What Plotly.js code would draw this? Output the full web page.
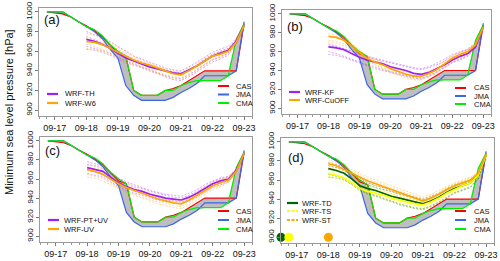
<!DOCTYPE html>
<html><head><meta charset="utf-8">
<script src="https://cdn.plot.ly/plotly-3.0.1.min.js"></script>
<style>html,body{margin:0;padding:0;background:#fff}#chart{width:500px;height:261px}</style>
</head><body><div id="chart"></div>
<script>
// ---------- data ----------
const dayTicks = ['2013-09-17','2013-09-18','2013-09-19','2013-09-20','2013-09-21','2013-09-22','2013-09-23'];
const dayLabels = ['09-17','09-18','09-19','09-20','09-21','09-22','09-23'];
const yTicks = [900, 920, 940, 960, 980, 1000];

// observations, 6-hourly from 2013-09-16 18:00 to 2013-09-23 00:00
const obsStart = '2013-09-16T18:00:00';
const cas = [1000, 999, 998, 995, 990, 986, 981, 975, 966, 958, 955, 920, 915, 915, 915, 920, 922, 925, 930, 935, 940, 940, 940, 940, 940, 988];
const jma = [1000, 1000, 1000, 995, 990, 985, 980, 973, 962, 953, 925, 915, 910, 910, 910, 910, 913, 918, 922, 927, 935, 935, 935, 935, 940, 990];
const cma = [1000, 1000, 1000, 995, 990, 985, 982, 976, 967, 960, 955, 920, 915, 915, 915, 920, 920, 925, 928, 930, 930, 930, 930, 935, 972, 988];

// simulations, 6-hourly from 2013-09-18 00:00 to 2013-09-23 00:00
const simStart = '2013-09-18T00:00:00';
// (a)
const thMean = [972, 970, 967, 963, 958, 953, 950, 947, 944, 942, 940, 938, 937, 941, 945, 950, 955, 958, 961, 970, 986];
const thMembers = [
  [980, 977, 974, 970, 965, 960, 955, 952, 949, 946, 943, 941, 940, 944, 949, 954, 959, 962, 965, 973, 987],
  [965, 963, 961, 958, 954, 950, 947, 944, 941, 938, 935, 933, 932, 936, 941, 946, 951, 954, 958, 968, 985],
  [975, 972, 968, 964, 961, 956, 952, 949, 946, 943, 941, 939, 938, 941, 946, 952, 957, 960, 963, 972, 987],
  [962, 961, 959, 956, 952, 948, 946, 943, 940, 937, 934, 931, 930, 934, 939, 944, 949, 952, 956, 967, 984]];
const w6Mean = [970, 969, 967, 963, 959, 955, 951, 948, 946, 943, 940, 937, 936, 940, 945, 950, 955, 957, 960, 969, 986];
const w6Members = [
  [978, 976, 972, 968, 964, 960, 955, 951, 948, 945, 942, 940, 939, 943, 948, 953, 957, 960, 963, 972, 987],
  [967, 965, 962, 959, 955, 951, 948, 945, 942, 939, 936, 934, 933, 937, 942, 947, 952, 955, 958, 968, 985],
  [973, 971, 969, 966, 962, 958, 953, 950, 947, 944, 941, 938, 937, 940, 945, 951, 956, 959, 962, 971, 986],
  [963, 962, 960, 957, 953, 949, 946, 944, 941, 938, 935, 932, 931, 935, 940, 946, 951, 953, 957, 967, 985]];
// (b)
const kfMean = [965, 964, 962, 958, 954, 951, 949, 947, 944, 942, 940, 937, 936, 938, 942, 946, 951, 955, 958, 965, 986];
const kfMembers = [
  [968, 966, 963, 960, 957, 954, 952, 950, 948, 946, 944, 942, 941, 943, 946, 950, 955, 959, 962, 968, 987],
  [960, 958, 955, 952, 949, 946, 944, 941, 939, 937, 935, 933, 932, 935, 939, 944, 949, 952, 956, 964, 985],
  [966, 965, 963, 961, 958, 955, 953, 951, 949, 947, 945, 943, 942, 944, 948, 952, 957, 960, 963, 969, 987],
  [957, 956, 954, 951, 948, 945, 942, 940, 938, 936, 934, 932, 931, 934, 938, 943, 948, 951, 955, 963, 985]];
const cuoffMean = [976, 975, 972, 966, 959, 953, 949, 946, 942, 939, 936, 934, 934, 937, 941, 947, 953, 957, 960, 967, 986];
const cuoffMembers = [
  [979, 978, 975, 969, 962, 956, 952, 949, 945, 942, 939, 937, 936, 939, 944, 950, 956, 959, 962, 969, 987],
  [972, 971, 968, 963, 957, 951, 947, 943, 939, 936, 933, 931, 931, 934, 938, 944, 950, 954, 957, 965, 985],
  [977, 976, 974, 968, 961, 955, 951, 948, 944, 941, 938, 935, 934, 937, 942, 948, 954, 958, 961, 968, 986],
  [970, 969, 966, 962, 956, 950, 946, 942, 938, 935, 932, 930, 930, 933, 937, 943, 949, 953, 956, 964, 985]];
// (c)
const ptuvMean = [972, 970, 968, 962, 956, 952, 949, 947, 944, 942, 940, 939, 938, 941, 945, 950, 955, 958, 960, 969, 987];
const ptuvMembers = [
  [978, 976, 973, 967, 961, 957, 954, 951, 948, 946, 944, 943, 942, 945, 949, 954, 958, 961, 963, 971, 988],
  [966, 964, 962, 957, 952, 948, 945, 943, 940, 938, 936, 935, 934, 937, 941, 946, 951, 954, 957, 967, 986],
  [975, 974, 971, 966, 960, 956, 952, 950, 947, 945, 943, 941, 940, 943, 947, 952, 957, 960, 962, 970, 987],
  [969, 967, 964, 959, 954, 950, 947, 945, 942, 940, 938, 937, 936, 939, 943, 948, 953, 956, 958, 968, 986]];
const uvMean = [970, 968, 965, 960, 955, 951, 948, 945, 942, 939, 937, 935, 934, 938, 943, 948, 953, 956, 959, 968, 987];
const uvMembers = [
  [975, 973, 969, 964, 959, 955, 951, 948, 945, 942, 940, 938, 937, 941, 946, 951, 956, 959, 962, 970, 988],
  [962, 961, 958, 954, 950, 946, 943, 940, 937, 934, 932, 930, 929, 933, 938, 944, 949, 952, 956, 966, 986],
  [972, 970, 967, 962, 957, 953, 950, 947, 944, 941, 939, 937, 936, 940, 944, 950, 955, 958, 961, 969, 987],
  [965, 963, 960, 956, 951, 947, 944, 941, 938, 936, 934, 932, 931, 935, 940, 946, 951, 953, 957, 967, 986]];
// (d)
const tdMean = [972, 970, 967, 961, 954, 951, 949, 946, 943, 941, 939, 937, 935, 938, 942, 947, 951, 954, 957, 965, 986];
const tdMembers = [
  [978, 976, 973, 968, 962, 957, 954, 952, 949, 946, 944, 942, 940, 943, 946, 951, 955, 958, 960, 967, 987],
  [966, 964, 961, 956, 950, 946, 944, 941, 938, 935, 933, 931, 930, 933, 937, 942, 947, 950, 953, 962, 985],
  [975, 973, 970, 966, 960, 955, 952, 950, 948, 945, 943, 941, 939, 941, 945, 949, 953, 956, 959, 966, 986],
  [963, 962, 960, 955, 949, 945, 943, 940, 937, 934, 932, 930, 929, 932, 936, 941, 946, 949, 952, 961, 985]];
const tsMean = [967, 965, 962, 957, 951, 948, 946, 944, 941, 939, 937, 935, 934, 937, 941, 946, 950, 954, 957, 965, 986];
const tsMembers = [
  [972, 970, 967, 962, 956, 952, 950, 948, 945, 943, 941, 939, 938, 941, 945, 950, 954, 958, 960, 967, 987],
  [962, 960, 957, 952, 947, 944, 942, 940, 937, 935, 933, 931, 930, 933, 937, 942, 946, 950, 953, 963, 985],
  [969, 967, 964, 959, 953, 950, 948, 946, 943, 941, 939, 937, 936, 939, 943, 948, 952, 956, 958, 966, 986],
  [964, 963, 960, 955, 949, 946, 944, 942, 939, 937, 935, 933, 932, 935, 939, 944, 948, 952, 955, 964, 985]];
const stMean = [977, 975, 971, 967, 963, 959, 956, 953, 950, 947, 944, 941, 938, 941, 945, 950, 954, 957, 960, 967, 987];
const stMembers = [
  [981, 979, 975, 971, 967, 963, 960, 957, 954, 951, 948, 945, 942, 945, 949, 953, 957, 960, 963, 969, 988],
  [973, 971, 967, 963, 959, 955, 952, 949, 946, 943, 940, 937, 935, 938, 942, 947, 951, 954, 957, 965, 986],
  [979, 977, 973, 969, 965, 961, 958, 955, 952, 949, 946, 943, 940, 943, 947, 952, 956, 959, 962, 968, 987],
  [975, 973, 969, 965, 961, 957, 954, 951, 948, 945, 942, 939, 937, 940, 944, 949, 953, 956, 959, 966, 986]];
// initialization markers in (d)
const initTimes = ['2013-09-16 12:00', '2013-09-16 18:00', '2013-09-18 00:00'];
const initValues = [900, 900, 900];

// ---------- styling / layout ----------
const W = 500, H = 261;
const C = {purple:'#A020F0', orange:'#FFA500', dgreen:'#006400', yellow:'#FFFF00',
           cas:'#FF0000', jma:'#3A66E8', cma:'#00EE00', gray:'#BEBEBE'};
function rgba(hex, a){const n=parseInt(hex.slice(1),16);return `rgba(${n>>16},${(n>>8)&255},${n&255},${a})`;}
function times(start, n){const t0=Date.parse(start+'Z');const out=[];for(let i=0;i<n;i++){out.push(new Date(t0+i*21600000).toISOString().slice(0,16).replace('T',' '));}return out;}
const obsT = times(obsStart, cas.length);
const simT = times(simStart, thMean.length);
const obsMin = cas.map((v,i)=>Math.min(v,jma[i],cma[i]));
const obsMax = cas.map((v,i)=>Math.max(v,jma[i],cma[i]));

const panels = [
  {box:[39,252,8,116], label:'(a)', lab:[52,20],
   groups:[{name:'WRF-TH',color:C.purple,mean:thMean,members:thMembers,dash:'solid'},
           {name:'WRF-W6',color:C.orange,mean:w6Mean,members:w6Members,dash:'solid'}],
   leg:{x:47, y:[94,103], tx:63}, oleg:{x:218, y:[86,94.5,103], tx:234}},
  {box:[282,491,10,114], label:'(b)', lab:[295,27],
   groups:[{name:'WRF-KF',color:C.purple,mean:kfMean,members:kfMembers,dash:'solid'},
           {name:'WRF-CuOFF',color:C.orange,mean:cuoffMean,members:cuoffMembers,dash:'solid'}],
   leg:{x:289, y:[92,100], tx:303}, oleg:{x:455, y:[88,96,104], tx:472}},
  {box:[40,252,137,242], label:'(c)', lab:[52,150],
   groups:[{name:'WRF-PT+UV',color:C.purple,mean:ptuvMean,members:ptuvMembers,dash:'solid'},
           {name:'WRF-UV',color:C.orange,mean:uvMean,members:uvMembers,dash:'solid'}],
   leg:{x:48, y:[220,229], tx:62}, oleg:{x:218, y:[211,220,229], tx:234}},
  {box:[281,494,138,243], label:'(d)', lab:[296,157],
   groups:[{name:'WRF-TD',color:C.dgreen,mean:tdMean,members:tdMembers,dash:'solid'},
           {name:'WRF-TS',color:C.yellow,mean:tsMean,members:tsMembers,dash:'dash'},
           {name:'WRF-ST',color:C.orange,mean:stMean,members:stMembers,dash:'dash'}],
   leg:{x:287, y:[203,211,220], tx:300}, oleg:{x:455, y:[211,220,229], tx:472}, dots:true}
];

const traces = [], shapes = [], annotations = [];
const layout = {width:W, height:H, margin:{l:0,r:0,t:0,b:0}, showlegend:false,
  paper_bgcolor:'#fff', plot_bgcolor:'#fff',
  font:{family:'Liberation Sans, Arial, Helvetica, sans-serif', color:'#111'}};
const px = x => x/W, py = y => 1 - y/H;

panels.forEach((p,i)=>{
  const k = i===0 ? '' : String(i+1);
  const xr = 'x'+k, yr = 'y'+k;
  layout['xaxis'+k] = {domain:[px(p.box[0]), px(p.box[1])], anchor:yr, type:'date',
    range:['2013-09-16 12:00','2013-09-23 06:00'], tickmode:'array', tickvals:dayTicks, ticktext:dayLabels,
    ticks:'outside', ticklen:3, tickcolor:'#777', showline:true, mirror:true, linecolor:'#9a9a9a', linewidth:1,
    showgrid:false, zeroline:false, tickfont:{size:9, color:'#111'}, fixedrange:true,
    minor:{tickmode:'linear', tick0:'2013-09-16', dtick:21600000, ticks:'outside', ticklen:2, tickcolor:'#999', showgrid:false}};
  layout['yaxis'+k] = {domain:[py(p.box[3]), py(p.box[2])], anchor:xr, range:[894,1004],
    tickmode:'array', tickvals:yTicks, tickangle:-90, ticks:'outside', ticklen:3, tickcolor:'#777',
    showline:true, mirror:true, linecolor:'#9a9a9a', linewidth:1, showgrid:false, zeroline:false,
    tickfont:{size:8, color:'#111'}, fixedrange:true};
  // observation envelope
  traces.push({x:obsT, y:obsMin, xaxis:xr, yaxis:yr, mode:'lines', line:{width:0, color:C.gray}, hoverinfo:'skip'});
  traces.push({x:obsT, y:obsMax, xaxis:xr, yaxis:yr, mode:'lines', line:{width:0, color:C.gray}, fill:'tonexty', fillcolor:C.gray, hoverinfo:'skip'});
  [[cas,C.cas],[jma,C.jma],[cma,C.cma]].forEach(([v,c])=>{
    traces.push({x:obsT, y:v, xaxis:xr, yaxis:yr, mode:'lines', line:{width:1.2, color:c}});
  });
  // ensemble members
  p.groups.forEach(g=>{
    g.members.forEach(m=>{
      traces.push({x:simT, y:m, xaxis:xr, yaxis:yr, mode:'lines', line:{width:0.8, color:rgba(g.color,0.5), dash:'2px,1.5px'}});
    });
  });
  // means
  p.groups.forEach(g=>{
    traces.push({x:simT, y:g.mean, xaxis:xr, yaxis:yr, mode:'lines', line:{width:1.7, color:g.color}});
  });
  if (p.dots){
    traces.push({x:initTimes, y:initValues, xaxis:xr, yaxis:yr, mode:'markers', cliponaxis:false,
      marker:{size:9, color:[C.dgreen, C.yellow, C.orange]}});
  }
  // panel label
  annotations.push({xref:'paper', yref:'paper', x:px(p.lab[0]), y:py(p.lab[1]), text:p.label, showarrow:false,
    font:{size:13, color:'#111'}, xanchor:'center', yanchor:'middle'});
  // left legend
  p.groups.forEach((g,j)=>{
    const y = p.leg.y[j];
    shapes.push({type:'line', xref:'paper', yref:'paper', x0:px(p.leg.x), x1:px(p.leg.x+11), y0:py(y), y1:py(y),
      line:{color:g.color, width:2.2, dash:g.dash==='dash'?'3px,1.5px':'solid'}});
    annotations.push({xref:'paper', yref:'paper', x:px(p.leg.tx), y:py(y), text:g.name, showarrow:false,
      xanchor:'left', yanchor:'middle', font:{size:7.5, color:'#111'}});
  });
  // observation legend
  [['CAS',C.cas],['JMA',C.jma],['CMA',C.cma]].forEach(([n,c],j)=>{
    const y = p.oleg.y[j];
    shapes.push({type:'line', xref:'paper', yref:'paper', x0:px(p.oleg.x), x1:px(p.oleg.x+11), y0:py(y), y1:py(y),
      line:{color:c, width:2}});
    annotations.push({xref:'paper', yref:'paper', x:px(p.oleg.tx), y:py(y), text:n, showarrow:false,
      xanchor:'left', yanchor:'middle', font:{size:7.5, color:'#111'}});
  });
});

annotations.push({xref:'paper', yref:'paper', x:px(9), y:py(112), text:'Minimum sea level pressure [hPa]',
  textangle:-90, showarrow:false, xanchor:'center', yanchor:'middle', font:{size:11, color:'#111'}});

layout.shapes = shapes;
layout.annotations = annotations;
Plotly.newPlot('chart', traces, layout, {staticPlot:true, displayModeBar:false});
</script></body></html>
